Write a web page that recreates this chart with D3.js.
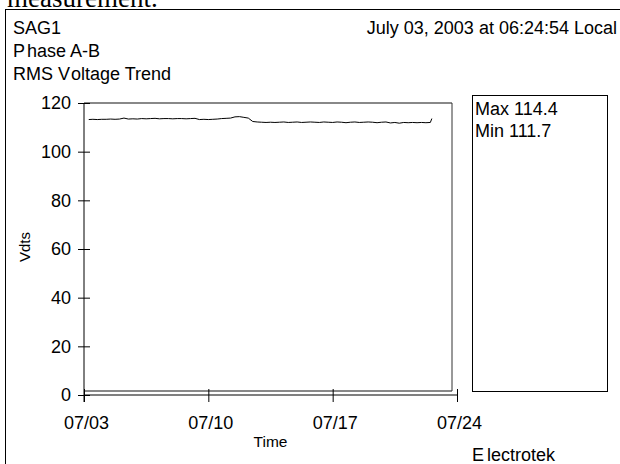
<!DOCTYPE html>
<html>
<head>
<meta charset="utf-8">
<script src="https://cdn.jsdelivr.net/npm/d3@7"></script>
<style>
  body { margin: 0; background: #fff; }
  svg text { font-family: "Liberation Sans", Arial, sans-serif; fill: #000; }
</style>
</head>
<body>
<div id="chart"></div>
<script>
// --- 1. DATA ---

const sampleTimes = [
    "07/03 06:24", "07/03 12:00", "07/03 18:00",
    "07/04 00:00", "07/04 06:00", "07/04 12:00", "07/04 18:00",
    "07/05 00:00", "07/05 06:00", "07/05 12:00", "07/05 18:00",
    "07/06 00:00", "07/06 06:00", "07/06 12:00", "07/06 18:00",
    "07/07 00:00", "07/07 06:00", "07/07 12:00", "07/07 18:00",
    "07/08 00:00", "07/08 06:00", "07/08 12:00", "07/08 18:00",
    "07/09 00:00", "07/09 06:00", "07/09 12:00", "07/09 18:00",
    "07/10 00:00", "07/10 06:00", "07/10 12:00", "07/10 18:00",
    "07/11 00:00", "07/11 06:00", "07/11 12:00", "07/11 18:00",
    "07/12 00:00", "07/12 06:00", "07/12 12:00", "07/12 18:00",
    "07/13 00:00", "07/13 06:00", "07/13 12:00", "07/13 18:00",
    "07/14 00:00", "07/14 06:00", "07/14 12:00", "07/14 18:00",
    "07/15 00:00", "07/15 06:00", "07/15 12:00", "07/15 18:00",
    "07/16 00:00", "07/16 06:00", "07/16 12:00", "07/16 18:00",
    "07/17 00:00", "07/17 06:00", "07/17 12:00", "07/17 18:00",
    "07/18 00:00", "07/18 06:00", "07/18 12:00", "07/18 18:00",
    "07/19 00:00", "07/19 06:00", "07/19 12:00", "07/19 18:00",
    "07/20 00:00", "07/20 06:00", "07/20 12:00", "07/20 18:00",
    "07/21 00:00", "07/21 06:00", "07/21 12:00", "07/21 18:00",
    "07/22 00:00", "07/22 06:00", "07/22 12:00", "07/22 14:00"
];

const phaseABVolts = [
    113.2, 113.3, 113.2,
    113.3, 113.3, 113.4, 113.3,
    113.4, 113.8, 113.4, 113.5,
    113.4, 113.6, 113.5, 113.6,
    113.7, 113.5, 113.6, 113.6,
    113.5, 113.6, 113.6, 113.5,
    113.6, 113.7, 113.2, 113.3,
    113.2, 113.3, 113.4, 113.6,
    113.7, 113.8, 114.3, 114.4,
    114.1, 113.8, 112.4, 112.2,
    112.1, 112.0, 112.1, 112.0,
    112.1, 112.2, 112.0, 112.1,
    112.2, 112.0, 112.1, 112.2,
    112.1, 112.0, 112.2, 112.1,
    112.0, 112.2, 112.1, 111.9,
    112.1, 112.2, 112.0, 112.1,
    112.2, 112.1, 111.9, 112.1,
    112.2, 111.8, 112.0, 111.7,
    112.0, 111.9, 112.0, 111.9,
    112.0, 111.9, 112.0, 113.6
];

const yTicks = [0, 20, 40, 60, 80, 100, 120];
const xTickDates = ["07/03 00:00", "07/10 00:00", "07/17 00:00", "07/24 00:00"];
const xTickLabels = ["07/03", "07/10", "07/17", "07/24"];

const headerLines = ["SAG1", "Phase A-B", "RMS Voltage Trend"];
const headerStamp = "July 03, 2003 at 06:24:54 Local";
const statLabels = ["Max", "Min"];
const statValues = [114.4, 111.7];

// --- 2. SETUP ---

const parseTime = s => d3.timeParse("%Y/%m/%d %H:%M")("2003/" + s);
const data = sampleTimes.map((t, i) => ({ t: parseTime(t), v: phaseABVolts[i] }));

const W = 620, H = 464;
const svg = d3.select("#chart").append("svg")
    .attr("width", W)
    .attr("height", H);

const x = d3.scaleTime()
    .domain([parseTime(xTickDates[0]), parseTime(xTickDates[xTickDates.length - 1])])
    .range([84, 457]);

const y = d3.scaleLinear()
    .domain([0, 120])
    .range([395, 103]);

// clipped caption text from the page above the figure
svg.append("text")
    .attr("x", 7).attr("y", 7)
    .style("font-family", "'Liberation Serif', 'Times New Roman', serif")
    .style("font-size", "27px")
    .text("measurement.");

// outer figure border
svg.append("rect")
    .attr("x", 5.5).attr("y", 9.5)
    .attr("width", 700).attr("height", 600)
    .attr("fill", "none")
    .attr("stroke", "#000");

// --- 3. HEADER ---

svg.append("text").attr("x", 13).attr("y", 34)
    .style("font-size", "18px").text(headerLines[0]);

svg.append("text").attr("x", 13).attr("y", 57)
    .style("font-size", "18px")
    .call(t => {
        t.append("tspan").text(headerLines[1].slice(0, 1));
        t.append("tspan").attr("dx", 2).text(headerLines[1].slice(1));
    });

svg.append("text").attr("x", 13).attr("y", 80)
    .style("font-size", "18px")
    .call(t => {
        t.append("tspan").text(headerLines[2].slice(0, 5));
        t.append("tspan").attr("dx", 2).text(headerLines[2].slice(5));
    });

svg.append("text").attr("x", 617).attr("y", 34)
    .attr("text-anchor", "end")
    .style("font-size", "18px")
    .text(headerStamp);

// --- 4. PLOT FRAME & AXES ---

const frameRight = 452, frameBottom = 391;

svg.append("line")  // top frame
    .attr("x1", x.range()[0]).attr("x2", frameRight)
    .attr("y1", y(120)).attr("y2", y(120))
    .attr("stroke", "#888").attr("stroke-width", 2);
svg.append("line")  // bottom frame
    .attr("x1", x.range()[0]).attr("x2", frameRight)
    .attr("y1", frameBottom).attr("y2", frameBottom)
    .attr("stroke", "#888").attr("stroke-width", 2);
svg.append("line")  // right frame
    .attr("x1", frameRight).attr("x2", frameRight)
    .attr("y1", y(120)).attr("y2", frameBottom)
    .attr("stroke", "#333").attr("stroke-width", 1);

// Y axis
const yAxis = svg.append("g")
    .attr("transform", `translate(${x.range()[0]},0)`)
    .call(d3.axisLeft(y).tickValues(yTicks).tickSize(6).tickPadding(7));
yAxis.select(".domain").remove();
yAxis.selectAll(".tick line").attr("x1", 6).attr("x2", -6).attr("stroke", "#000");
yAxis.selectAll(".tick text")
    .style("font-size", "18px")
    .style("font-family", "'Liberation Sans', Arial, sans-serif");
yAxis.append("line")
    .attr("x1", 0).attr("x2", 0)
    .attr("y1", y(120)).attr("y2", y(0) + 7)
    .attr("stroke", "#000");

// X axis
const xAxis = svg.append("g")
    .attr("transform", `translate(0,${y(0)})`)
    .call(d3.axisBottom(x)
        .tickValues(xTickDates.map(parseTime))
        .tickFormat((d, i) => xTickLabels[i])
        .tickSize(7).tickPadding(14));
xAxis.select(".domain").remove();
xAxis.selectAll(".tick line").attr("y1", -6).attr("y2", 7).attr("stroke", "#000");
xAxis.selectAll(".tick text")
    .attr("dx", 2)
    .style("font-size", "18px")
    .style("font-family", "'Liberation Sans', Arial, sans-serif");
xAxis.append("line")
    .attr("x1", x.range()[0]).attr("x2", x.range()[1])
    .attr("y1", 0).attr("y2", 0)
    .attr("stroke", "#000");

// axis titles
svg.append("text")
    .attr("transform", "translate(30,247) rotate(-90)")
    .attr("text-anchor", "middle")
    .style("font-size", "15px")
    .text("Vdts");

svg.append("text")
    .attr("x", (x.range()[0] + x.range()[1]) / 2).attr("y", 447)
    .attr("text-anchor", "middle")
    .style("font-size", "15.5px")
    .text("Time");

// --- 5. TREND LINE ---

const line = d3.line()
    .x(d => x(d.t))
    .y(d => y(d.v));

svg.append("path")
    .datum(data)
    .attr("d", line)
    .attr("fill", "none")
    .attr("stroke", "#000")
    .attr("stroke-width", 1);

// --- 6. STATS BOX & FOOTER ---

svg.append("rect")
    .attr("x", 472.5).attr("y", 95.5)
    .attr("width", 135).attr("height", frameBottom - 95)
    .attr("fill", "none")
    .attr("stroke", "#000");

statLabels.forEach((lab, i) => {
    svg.append("text")
        .attr("x", 475).attr("y", 115 + i * 22)
        .style("font-size", "18px")
        .text(`${lab} ${statValues[i].toFixed(1)}`);
});

svg.append("text").attr("x", 472).attr("y", 461)
    .style("font-size", "18px")
    .call(t => {
        t.append("tspan").text("E");
        t.append("tspan").attr("dx", 3).text("lectrotek");
    });
</script>
</body>
</html>
